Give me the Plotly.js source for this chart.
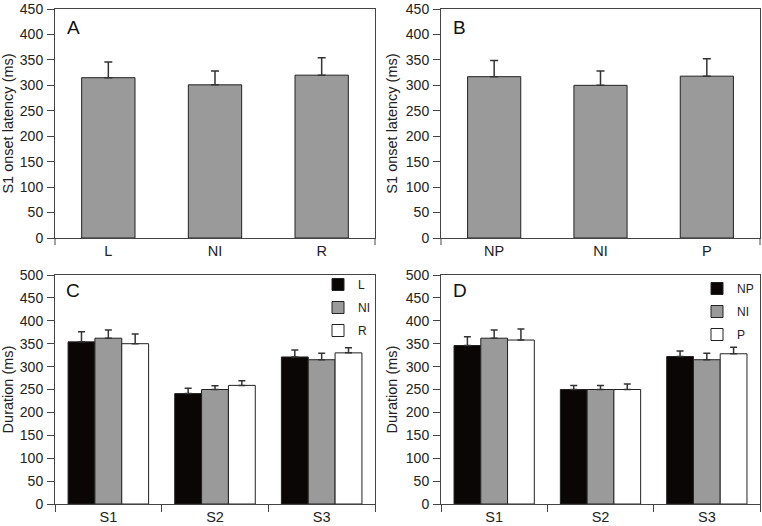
<!DOCTYPE html>
<html>
<head>
<meta charset="utf-8">
<script src="https://cdn.plot.ly/plotly-3.0.1.min.js"></script>
<style>html,body{margin:0;padding:0;background:#fff;}#chart{width:762px;height:526px;}</style>
</head>
<body>
<div id="chart"></div>
<script>
// Panel A: S1 onset latency by L / NI / R
const catsA = ['L', 'NI', 'R'];
const latencyA = [315, 301, 320];
const latencyAErr = [31, 27, 34];
// Panel B: S1 onset latency by NP / NI / P
const catsB = ['NP', 'NI', 'P'];
const latencyB = [317, 300, 318];
const latencyBErr = [32, 28, 34];
// Panels C & D: durations per stage
const stages = ['S1', 'S2', 'S3'];
const durL = [354, 241, 321];
const durLErr = [22, 12, 15];
const durNI_C = [362, 250, 315];
const durNI_CErr = [18, 8, 14];
const durR = [350, 259, 330];
const durRErr = [21, 10, 11];
const durNP = [346, 250, 322];
const durNPErr = [19, 9, 12];
const durNI_D = [362, 250, 315];
const durNI_DErr = [18, 9, 14];
const durP = [358, 250, 328];
const durPErr = [24, 12, 14];

const FONT = 'Liberation Sans, Arial, sans-serif';
const AX = '#444';
const BLACK = '#0b0606', GRAY = '#9a9a9a', WHITE = '#ffffff';

function errUp(arr, w) {
  return {type: 'data', array: arr, arrayminus: arr.map(() => 0), symmetric: false,
          color: '#333', thickness: 1.5, width: w};
}
function bar(x, y, err, color, name, xa, ya, opts) {
  return Object.assign({
    type: 'bar', x: x, y: y, name: name, xaxis: xa, yaxis: ya,
    marker: {color: color, line: {color: '#222', width: 1}},
    error_y: errUp(err, 3.5), hoverinfo: 'x+y'
  }, opts || {});
}

const traces = [
  bar(catsA, latencyA, latencyAErr, GRAY, 'A', 'x', 'y', {width: 0.5, showlegend: false, error_y: errUp(latencyAErr, 4)}),
  bar(catsB, latencyB, latencyBErr, GRAY, 'B', 'x2', 'y2', {width: 0.5, showlegend: false, error_y: errUp(latencyBErr, 4)}),
  bar(stages, durL, durLErr, BLACK, 'L', 'x3', 'y3', {legend: 'legend', legendgroup: 'c1'}),
  bar(stages, durNI_C, durNI_CErr, GRAY, 'NI', 'x3', 'y3', {legend: 'legend', legendgroup: 'c2'}),
  bar(stages, durR, durRErr, WHITE, 'R', 'x3', 'y3', {legend: 'legend', legendgroup: 'c3'}),
  bar(stages, durNP, durNPErr, BLACK, 'NP', 'x4', 'y4', {legend: 'legend2', legendgroup: 'd1'}),
  bar(stages, durNI_D, durNI_DErr, GRAY, 'NI', 'x4', 'y4', {legend: 'legend2', legendgroup: 'd2'}),
  bar(stages, durP, durPErr, WHITE, 'P', 'x4', 'y4', {legend: 'legend2', legendgroup: 'd3'})
];

const W = 762, H = 526;
const colL = [55 / W, 375 / W], colR = [441 / W, 760 / W];
const rowT = [1 - 238 / H, 1 - 9 / H], rowB = [1 - 504 / H, 1 - 275 / H];

function yax(domain, anchor, max, title) {
  return {domain: domain, anchor: anchor, range: [0, max], dtick: 50, tick0: 0,
    ticks: 'outside', ticklen: 7, tickwidth: 1, tickcolor: AX,
    showline: true, linecolor: AX, linewidth: 1, mirror: true,
    showgrid: false, zeroline: false, fixedrange: true,
    tickfont: {family: FONT, size: 14, color: '#222'}, ticklabelstandoff: 1,
    title: {text: title, font: {family: FONT, size: 14.5, color: '#222'}, standoff: 4}};
}
function xax(domain, anchor, boundaryTicks) {
  return {domain: domain, anchor: anchor, type: 'category', range: [-0.5, 2.5],
    ticks: boundaryTicks ? 'outside' : '', tickson: 'boundaries', ticklen: 7, tickwidth: 1, tickcolor: AX,
    showline: true, linecolor: AX, linewidth: 1, mirror: true,
    showgrid: false, zeroline: false, fixedrange: true,
    tickfont: {family: FONT, size: 14.5, color: '#222'}};
}
function endTick(xr, yr, xpos) {
  return {type: 'line', xref: xr + ' domain', yref: yr + ' domain', x0: xpos, x1: xpos,
    ysizemode: 'pixel', yanchor: 0, y0: 0, y1: -7, line: {color: AX, width: 1}};
}
function letter(txt, xpx, ypx) {
  return {text: txt, xref: 'paper', yref: 'paper', x: xpx / W, y: 1 - ypx / H,
    xanchor: 'left', yanchor: 'middle', showarrow: false,
    font: {family: FONT, size: 19, color: '#111'}};
}
function legendCfg(xpx, ypx) {
  return {x: xpx / W, y: 1 - ypx / H, xanchor: 'left', yanchor: 'top',
    xref: 'paper', yref: 'paper', bgcolor: 'rgba(0,0,0,0)', borderwidth: 0,
    traceorder: 'grouped', tracegroupgap: 4, itemclick: false, itemdoubleclick: false,
    font: {family: FONT, size: 12, color: '#222'}};
}

const layout = {
  width: W, height: H, margin: {l: 0, r: 0, t: 0, b: 0},
  paper_bgcolor: '#fff', plot_bgcolor: '#fff',
  barmode: 'group', bargap: 0.245, bargroupgap: 0,
  font: {family: FONT},
  xaxis: xax(colL, 'y', false), yaxis: yax(rowT, 'x', 450, 'S1 onset latency (ms)'),
  xaxis2: xax(colR, 'y2', false), yaxis2: yax(rowT, 'x2', 450, 'S1 onset latency (ms)'),
  xaxis3: xax(colL, 'y3', true), yaxis3: yax(rowB, 'x3', 500, 'Duration (ms)'),
  xaxis4: xax(colR, 'y4', true), yaxis4: yax(rowB, 'x4', 500, 'Duration (ms)'),
  legend: legendCfg(318, 270),
  legend2: legendCfg(697, 274),
  shapes: [endTick('x', 'y', 0), endTick('x', 'y', 1), endTick('x2', 'y2', 0), endTick('x2', 'y2', 1)],
  annotations: [letter('A', 65, 27), letter('B', 451, 27), letter('C', 64, 290), letter('D', 451, 290)]
};

Plotly.newPlot('chart', traces, layout, {displayModeBar: false, staticPlot: false});
</script>
</body>
</html>
